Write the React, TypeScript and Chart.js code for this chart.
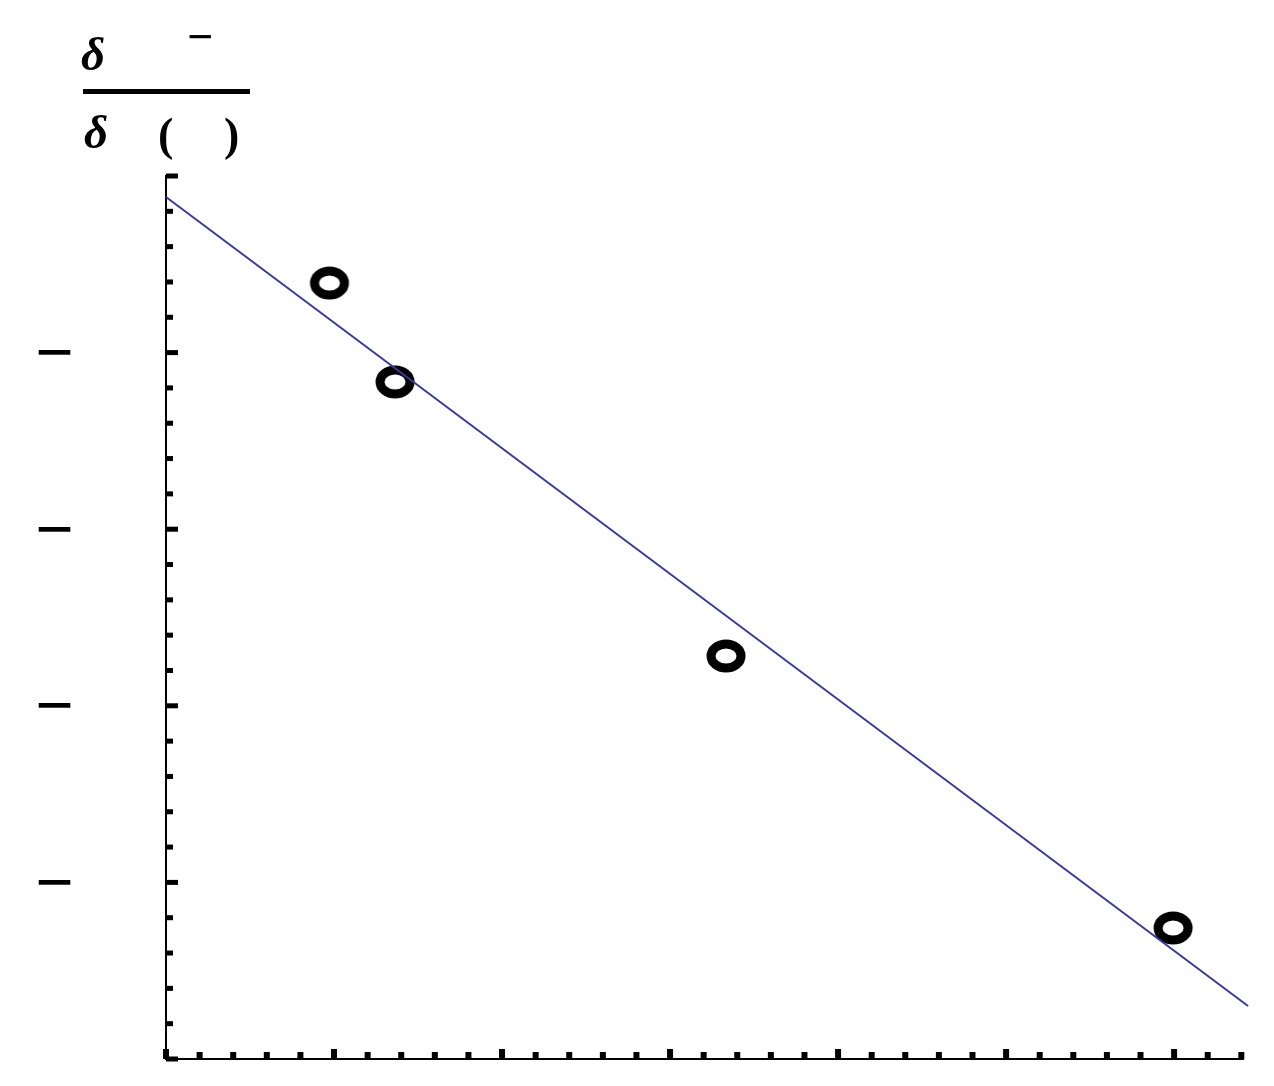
import React, { useEffect, useRef } from "react";
import { Chart, registerables } from "chart.js";

Chart.register(...registerables);

// Data
const pointX = [0.973, 1.363, 3.333, 5.994];
const pointY = [-0.606, -1.166, -2.718, -4.258];
const fitX = [0.0, 6.44];
const fitY = [-0.119, -4.7];
const xMin = 0;
const xMax = 6.41;
const yMin = -5;
const yMax = 0;
const yLabeledTicks = [-1, -2, -3, -4];
const minorStep = 0.2;

function makeRing(): HTMLCanvasElement {
  const c = document.createElement("canvas");
  c.width = 46;
  c.height = 40;
  const g = c.getContext("2d")!;
  g.strokeStyle = "#000";
  g.lineWidth = 9;
  g.beginPath();
  g.ellipse(23, 20, 15, 12, 0, 0, Math.PI * 2);
  g.stroke();
  return c;
}

const ticksPlugin = {
  id: "innerTicks",
  afterDraw(chart: any) {
    const { ctx, chartArea } = chart;
    const xs = chart.scales.x;
    const ys = chart.scales.y;
    ctx.save();
    ctx.fillStyle = "#000";
    // y ticks (inward, to the right of the axis)
    const nY = Math.round((yMax - yMin) / minorStep);
    for (let i = 0; i <= nY; i++) {
      const v = yMin + i * minorStep;
      const major = Math.abs(v - Math.round(v)) < 1e-6;
      const p = ys.getPixelForValue(v);
      const len = major ? 12 : 7;
      ctx.fillRect(chartArea.left, p - 2.5, len, 5);
    }
    // x ticks (inward, above the axis)
    const nX = Math.floor((xMax - xMin) / minorStep + 1e-6);
    for (let i = 0; i <= nX; i++) {
      const v = xMin + i * minorStep;
      const major = Math.abs(v - Math.round(v)) < 1e-6;
      const p = xs.getPixelForValue(v);
      const len = major ? 10 : 7;
      ctx.fillRect(p - 3, chartArea.bottom - len, 6, len);
    }
    // axis label (fraction) at the top left
    ctx.fillStyle = "#000";
    ctx.textBaseline = "alphabetic";
    ctx.textAlign = "left";
    ctx.font = "italic bold 47px 'Liberation Serif'";
    ctx.fillText("δ", 73, 62);
    ctx.font = "bold 46px 'Liberation Serif'";
    ctx.textAlign = "center";
    ctx.fillText("−", 192, 44);
    ctx.fillRect(75, 81, 167, 5);
    ctx.textAlign = "left";
    ctx.font = "italic bold 47px 'Liberation Serif'";
    ctx.fillText("δ", 76, 140);
    ctx.font = "bold 46px 'Liberation Serif'";
    ctx.fillText("(", 150, 142);
    ctx.fillText(")", 216, 142);
    ctx.restore();
  },
};

export default function App() {
  const ref = useRef<HTMLCanvasElement>(null);
  useEffect(() => {
    if (!ref.current) return;
    const ring = makeRing();
    const chart = new Chart(ref.current, {
      type: "scatter",
      data: {
        datasets: [
          {
            label: "fit",
            data: fitX.map((x, i) => ({ x, y: fitY[i] })),
            showLine: true,
            borderColor: "#3a3a9c",
            borderWidth: 2,
            pointRadius: 0,
            clip: false as any,
            order: 0,
          },
          {
            label: "data",
            data: pointX.map((x, i) => ({ x, y: pointY[i] })),
            showLine: false,
            pointStyle: ring as any,
            pointRadius: 15,
            order: 1,
          },
        ],
      },
      options: {
        animation: false,
        responsive: false,
        events: [],
        layout: { padding: { top: 168, right: 23, bottom: 0, left: 0 } },
        plugins: {
          legend: { display: false },
          tooltip: { enabled: false },
        },
        scales: {
          x: {
            type: "linear",
            min: xMin,
            max: xMax,
            grid: { display: true, drawOnChartArea: false, drawTicks: false },
            border: { display: true, color: "#000", width: 2 },
            ticks: { display: false },
            afterFit(scale: any) {
              scale.height = 19;
              scale.paddingLeft = 0;
              scale.paddingRight = 0;
            },
          },
          y: {
            type: "linear",
            min: yMin,
            max: yMax,
            grid: { display: true, drawOnChartArea: false, drawTicks: false },
            border: { display: true, color: "#000", width: 2 },
            ticks: {
              stepSize: 1,
              color: "#000",
              padding: 92,
              labelOffset: 5,
              font: { family: "'Liberation Serif'", weight: "bold", size: 68 },
              callback: (v: any) => (yLabeledTicks.includes(Math.round(Number(v) * 1000) / 1000) ? "−" : null),
            },
            afterFit(scale: any) {
              scale.width = 158;
              scale.paddingTop = 0;
              scale.paddingBottom = 0;
            },
          },
        },
      },
      plugins: [ticksPlugin],
    });
    return () => chart.destroy();
  }, []);
  return (
    <div style={{ width: 1258, height: 1070 }}>
      <canvas ref={ref} width={1258} height={1070} style={{ display: "block" }} />
    </div>
  );
}
